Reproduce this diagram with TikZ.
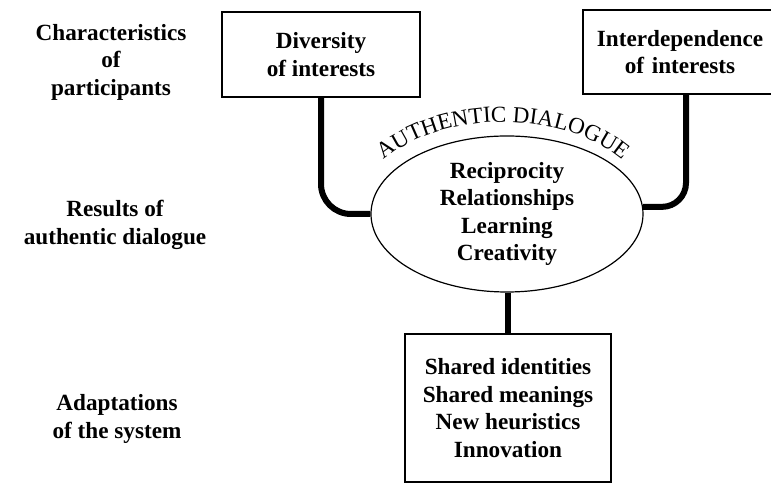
\documentclass[tikz,border=0pt]{standalone}
\usepackage{fontspec}
\setmainfont{Liberation Serif}
\usetikzlibrary{shapes.geometric,decorations.text}
\begin{document}
\begin{tikzpicture}[x=1pt,y=1pt,
  lbl/.style={font=\fontsize{23.2}{27.5}\selectfont\bfseries, align=center, inner sep=0pt},
  boxnode/.style={draw, line width=1.2pt, inner sep=0pt, align=center, font=\fontsize{23.2}{27.5}\selectfont\bfseries},
  conn/.style={line width=6pt, rounded corners=30pt}
]
\useasboundingbox (0,0) rectangle (771,489);
\begin{scope}
\clip (0,0) rectangle (771,489);
% side labels
\node[lbl] (lab1) at (111,427) {Characteristics\\of\\participants};
\node[lbl] (lab2) at (115,264) {Results of\\authentic dialogue};
\node[lbl] (lab3) at (117,70) {Adaptations\\of the system};
% boxes
\node[boxnode, minimum width=198pt, minimum height=85pt] (lbox) at (321,434.5) {Diversity\\of interests};
\node[boxnode, minimum width=194pt, minimum height=84pt, text width=194pt] (rbox) at (680,437) {Interdependence\\of interests};
\node[boxnode, minimum width=206pt, minimum height=148pt] (bbox) at (508,81) {Shared identities\\Shared meanings\\New heuristics\\Innovation};
% ellipse
\node[ellipse, draw, line width=1.2pt, inner sep=0pt, minimum width=272pt, minimum height=156pt, align=center,
      font=\fontsize{23.2}{27.5}\selectfont\bfseries] (ell) at (507,275) {Reciprocity\\Relationships\\Learning\\Creativity};
% arc text
\path[decorate, decoration={text along path, text align=center,
   text={|\fontsize{23}{23}\selectfont|AUTHENTIC DIALOGUE}}]
   (503,271) ++(150:150 and 96) arc[start angle=150, end angle=30, x radius=150, y radius=96];
% connectors
\coordinate (rtop) at ([xshift=6pt]rbox.south);
\draw[conn] (lbox.south) |- (ell.west);
\draw[conn, rounded corners=24pt] (rtop) |- (ell.3);
\draw[line width=6pt] (ell.south -| bbox.north) -- (bbox.north);
\end{scope}
\end{tikzpicture}
\end{document}
